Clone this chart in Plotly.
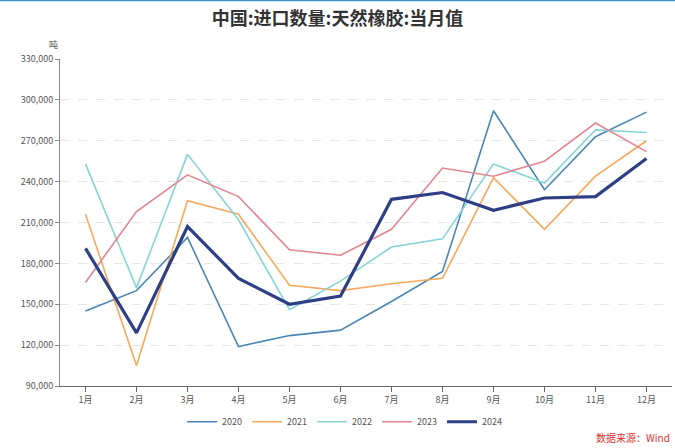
import plotly.graph_objects as go

months = ["1月", "2月", "3月", "4月", "5月", "6月", "7月", "8月", "9月", "10月", "11月", "12月"]
y2020 = [145000, 160000, 199000, 119000, 127000, 131000, 152000, 174000, 292000, 234000, 273000, 291000]
y2021 = [216000, 105000, 226000, 216000, 164000, 160000, 165000, 169000, 243000, 205000, 244000, 270000]
y2022 = [253000, 162000, 260000, 212000, 146000, 167000, 192000, 198000, 253000, 239000, 278000, 276000]
y2023 = [166000, 218000, 245000, 229000, 190000, 186000, 205000, 250000, 244000, 255000, 283000, 262000]
y2024 = [191000, 129000, 207000, 169000, 150000, 156000, 227000, 232000, 219000, 228000, 229000, 257000]

series = [
    ("2020", y2020, "#4a86b4", 1.6),
    ("2021", y2021, "#f5a95c", 1.6),
    ("2022", y2022, "#86d4d6", 1.6),
    ("2023", y2023, "#e2868f", 1.6),
    ("2024", y2024, "#2f3f86", 3.2),
]

FONT = "Noto Sans CJK SC"

fig = go.Figure()
for name, vals, color, w in series:
    fig.add_trace(go.Scatter(x=months, y=vals, name=name, mode="lines",
                             line=dict(color=color, width=w)))

fig.update_layout(
    width=675, height=448,
    paper_bgcolor="white", plot_bgcolor="white",
    margin=dict(l=60, r=3, t=59, b=62),
    font=dict(family=FONT, size=9, color="#555555"),
    title=dict(text="<b>中国:进口数量:天然橡胶:当月值</b>", x=0.5, xanchor="center",
               y=0.958, yanchor="middle", font=dict(family=FONT, size=18, color="#333333")),
    showlegend=True,
    legend=dict(orientation="h", x=0.465, xanchor="center", y=-0.065, yanchor="top",
                font=dict(family=FONT, size=9, color="#555555"),
                itemwidth=30, tracegroupgap=0),
)

fig.update_xaxes(
    type="category", range=[-0.5, 11.5],
    showline=True, linecolor="#666666", linewidth=1,
    ticks="outside", ticklen=5, tickcolor="#666666",
    tickfont=dict(family=FONT, size=9, color="#555555"),
    showgrid=False, zeroline=False,
)
fig.update_yaxes(
    range=[90000, 330000], dtick=30000, tick0=90000,
    tickformat=",d",
    showline=True, linecolor="#888888", linewidth=1,
    ticks="outside", ticklen=4, tickcolor="#888888",
    tickfont=dict(family=FONT, size=9, color="#555555"),
    showgrid=True, gridcolor="#e6e6e6", griddash="dash", gridwidth=1,
    zeroline=False,
)

fig.add_annotation(text="吨", xref="paper", yref="paper", x=0.0, y=1.0, xanchor="right",
                   yanchor="bottom", yshift=6, showarrow=False,
                   font=dict(family=FONT, size=9, color="#555555"))
fig.add_annotation(text="数据来源：Wind", xref="paper", yref="paper", x=1.0, y=0, xanchor="right",
                   yanchor="middle", yshift=-51, showarrow=False,
                   font=dict(family=FONT, size=10, color="#e03030"))
fig.add_shape(type="line", xref="paper", yref="paper", x0=-0.1, x1=1.01, y0=1.18, y1=1.18,
              line=dict(color="#3a8fd6", width=2))

fig.write_html("out.html")
